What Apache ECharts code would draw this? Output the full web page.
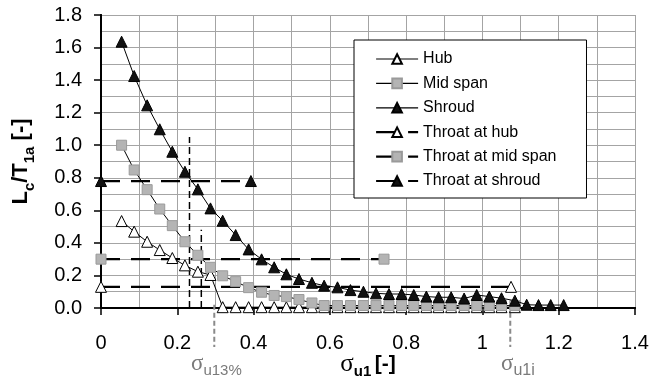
<!DOCTYPE html>
<html><head><meta charset="utf-8">
<script src="https://cdn.jsdelivr.net/npm/echarts@6/dist/echarts.min.js"></script>
<style>html,body{margin:0;padding:0;background:#fff}#c{width:650px;height:381px}</style>
</head><body><div id="c"></div>
<script>
// sigma_u1 values of the computed points
const sigma = [0.054,0.087,0.121,0.154,0.187,0.220,0.254,0.287,0.319,0.353,0.387,0.421,0.454,0.486,0.519,0.553,0.585,0.620,0.654,0.688,0.721,0.755,0.788,0.820,0.853,0.885,0.918,0.952,0.985,1.018,1.050,1.085,1.116,1.147,1.179,1.213];
const shroud = [1.636,1.425,1.245,1.098,0.960,0.837,0.729,0.612,0.536,0.448,0.360,0.299,0.250,0.207,0.178,0.155,0.137,0.127,0.110,0.100,0.090,0.086,0.086,0.080,0.070,0.066,0.066,0.058,0.080,0.070,0.060,0.045,0.020,0.018,0.018,0.018];
const midSpan = [1.000,0.848,0.727,0.608,0.506,0.407,0.324,0.250,0.198,0.162,0.125,0.097,0.077,0.070,0.052,0.031,0.015,0.015,0.015,0.015,0.015,0.015,0.015,0.015,0.015,0.015,0.015,0.015,0.015,0.015,0.015,0.015];
const hub = [0.534,0.469,0.407,0.356,0.307,0.262,0.223,0.203,0.005,0.005,0.005,0.005,0.005,0.005,0.005,0.005,0.005,0.005,0.005,0.005,0.005,0.005,0.005,0.005,0.005,0.005,0.005,0.005,0.005,0.005,0.005,0.005];
// throat lines: [x start, x end], level
const throatHubX = [0, 1.075], throatHubY = 0.13;
const throatMidX = [0, 0.742], throatMidY = 0.30;
const throatShroudX = [0, 0.393], throatShroudY = 0.78;
// annotation verticals
const blackVX = [0.232, 0.263], blackVTop = [1.05, 0.48];
const grayVX = [0.297, 1.073], grayVY = [0.02, -0.24];
const legendNames = ['Hub','Mid span','Shroud','Throat at hub','Throat at mid span','Throat at shroud'];

const pair = (xs, ys) => xs.slice(0, ys.length).map((x, i) => [x, ys[i]]);
const hubSym = {symbol:'triangle', symbolSize:11, itemStyle:{color:'#fff', borderColor:'#000', borderWidth:1}};
const midSym = {symbol:'rect', symbolSize:10, itemStyle:{color:'#b4b4b4', borderColor:'#9a9a9a', borderWidth:1}};
const shrSym = {symbol:'triangle', symbolSize:11, itemStyle:{color:'#111', borderColor:'#000', borderWidth:1}};
const solid = {color:'#000', width:1};
const dash = {color:'#000', width:2.2, type:[19,11]};
const clone = o => JSON.parse(JSON.stringify(o));

const series = [];
function throat(name, xs, y, sym){
  series.push(Object.assign({name, type:'line', data: xs.map(x=>[x,y]), lineStyle: dash, z:3}, clone(sym)));
}
series.push(Object.assign({name:legendNames[0], type:'line', data: pair(sigma, hub), lineStyle: solid, z:4}, clone(hubSym)));
series.push(Object.assign({name:legendNames[1], type:'line', data: pair(sigma, midSpan), lineStyle: solid, z:5}, clone(midSym)));
series.push(Object.assign({name:legendNames[2], type:'line', data: pair(sigma, shroud), lineStyle: solid, z:6}, clone(shrSym)));
throat(legendNames[3], throatHubX, throatHubY, hubSym);
throat(legendNames[4], throatMidX, throatMidY, midSym);
throat(legendNames[5], throatShroudX, throatShroudY, shrSym);
blackVX.forEach((x,i)=>series.push({type:'line', data:[[x,0],[x,blackVTop[i]]], symbol:'none', silent:true, z:2,
  lineStyle:{color:'#000', width:1.5, type:[7,4]}}));
grayVX.forEach((x)=>series.push({type:'line', data:[[x,grayVY[0]],[x,grayVY[1]]], symbol:'none', silent:true, clip:false, z:2,
  lineStyle:{color:'#8a8a8a', width:2, type:[5,3]}}));

const chart = echarts.init(document.getElementById('c'));
const sans = 'Liberation Sans, Arial, sans-serif';
const serif = 'Liberation Serif, Times New Roman, serif';
const legendData = legendNames.map((n,i)=> i<3 ? {name:n, lineStyle:{color:'#000', width:1.2, type:'solid'}}
                                              : {name:n, lineStyle:{color:'#000', width:2.2, type:[22,10]}});
const frameAxis = {type:'value', axisLine:{show:true, lineStyle:{color:'#000', width:2}}, axisTick:{show:false},
  axisLabel:{show:false}, splitLine:{show:false}};
chart.setOption({
  animation:false,
  backgroundColor:'#fff',
  grid:{left:101, right:15, top:15, bottom:73, outerBoundsMode:'none', containLabel:false},
  legend:{
    data: legendData,
    orient:'vertical', left:354, top:40, itemWidth:42, itemHeight:12, itemGap:8.4,
    padding:[11,30,9,21], borderColor:'#000', borderWidth:1, backgroundColor:'#fff',
    textStyle:{fontFamily:sans, fontSize:16, color:'#000'}
  },
  xAxis:[{type:'value', min:0, max:1.4, interval:0.2,
    name:'{s|σ}{sub|u1} {b|[-]}', nameLocation:'middle', nameGap:41, nameMoveOverlap:false,
    nameTextStyle:{rich:{
      s:{fontFamily:serif, fontSize:25, color:'#000', lineHeight:26, verticalAlign:'middle'},
      sub:{fontFamily:sans, fontSize:15, fontWeight:'bold', color:'#000', lineHeight:30, verticalAlign:'bottom'},
      b:{fontFamily:sans, fontSize:21, fontWeight:'bold', color:'#000', lineHeight:26, verticalAlign:'middle'}}},
    axisLine:{lineStyle:{color:'#000', width:2}},
    axisTick:{show:true, length:7, lineStyle:{color:'#000', width:1.5}},
    axisLabel:{margin:25, fontFamily:sans, fontSize:20, color:'#000', formatter:v=>String(parseFloat(v.toFixed(1)))},
    splitLine:{show:true, lineStyle:{color:'#a4a4a4', width:1}},
    minorTick:{show:false, splitNumber:2},
    minorSplitLine:{show:true, lineStyle:{color:'#a4a4a4', width:1}}
  }, Object.assign({position:'top', min:0, max:1.4}, frameAxis)],
  yAxis:[{type:'value', min:0, max:1.8, interval:0.2,
    name:'{b|L}{sub|c}{b|/T}{sub|1a}{b| [-]}', nameLocation:'middle', nameGap:64, nameMoveOverlap:false,
    nameTextStyle:{rich:{
      b:{fontFamily:sans, fontSize:22, fontWeight:'bold', color:'#000', lineHeight:28, verticalAlign:'middle'},
      sub:{fontFamily:sans, fontSize:15, fontWeight:'bold', color:'#000', lineHeight:32, verticalAlign:'bottom'}}},
    axisLine:{lineStyle:{color:'#000', width:2}},
    axisTick:{show:true, length:7, lineStyle:{color:'#000', width:1.5}},
    axisLabel:{margin:19, fontFamily:sans, fontSize:20, color:'#000', formatter:v=>v.toFixed(1)},
    splitLine:{show:true, lineStyle:{color:'#a4a4a4', width:1}},
    minorTick:{show:false, splitNumber:2},
    minorSplitLine:{show:true, lineStyle:{color:'#a4a4a4', width:1}}
  }, Object.assign({position:'right', min:0, max:1.8}, frameAxis)],
  graphic:[
    {type:'text', left:191, top:352, style:{text:'{s|σ}{sub|u13%}', rich:{
      s:{fontFamily:serif, fontSize:23, fill:'#7a7a7a', lineHeight:26, verticalAlign:'middle'},
      sub:{fontFamily:sans, fontSize:15, fill:'#7a7a7a', lineHeight:30, verticalAlign:'bottom'}}}},
    {type:'text', left:501, top:352, style:{text:'{s|σ}{sub|u1i}', rich:{
      s:{fontFamily:serif, fontSize:23, fill:'#7a7a7a', lineHeight:26, verticalAlign:'middle'},
      sub:{fontFamily:sans, fontSize:16, fill:'#7a7a7a', lineHeight:30, verticalAlign:'bottom'}}}}
  ],
  series
});
</script></body></html>
